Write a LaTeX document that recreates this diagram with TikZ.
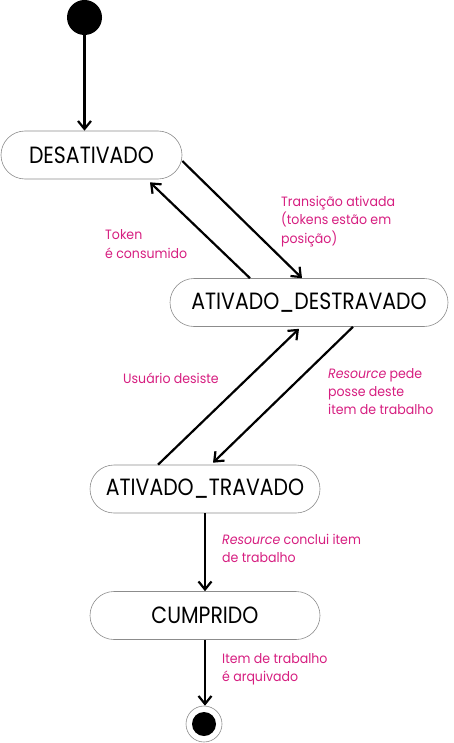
\documentclass[tikz,border=0pt]{standalone}
\usepackage{fontspec}
\setmainfont{Poppins}
\newfontfamily\statefont{Poppins}[FakeStretch=0.87]
\newfontfamily\lblfont{Poppins}[FakeStretch=0.93]
\usetikzlibrary{arrows.meta}
\definecolor{lblc}{RGB}{214,30,128}
\definecolor{bordc}{RGB}{140,140,140}
\begin{document}
\begin{tikzpicture}[x=1pt,y=1pt,
  state/.style={draw=bordc,line width=0.6pt,rounded corners=24pt,minimum height=48pt,inner sep=0pt,font=\statefont\fontsize{23.5}{26}\selectfont},
  conn/.style={line width=2.2pt,-{Straight Barb[length=8pt,width=13pt,line width=2.2pt]}},
  lbl/.style={text=lblc,align=left,inner sep=0pt,font=\lblfont\fontsize{13.5}{18}\selectfont}]
\useasboundingbox (0,0) rectangle (454,-743);
\node[circle,fill=black,minimum size=35pt,inner sep=0pt] (init) at (84.5,-17.5) {};
\node[state,minimum width=181pt] (des) at (91.5,-155) {DESATIVADO};
\node[state,minimum width=278pt] (ad) at (309,-302.5) {ATIVADO\_DESTRAVADO};
\node[state,minimum width=230pt] (at) at (205,-489) {ATIVADO\_TRAVADO};
\node[state,minimum width=230pt] (cum) at (205,-615.5) {CUMPRIDO};
\node[circle,draw=bordc,line width=0.6pt,minimum size=36pt,inner sep=0pt] (fin) at (204,-724) {};
\node[circle,fill=black,minimum size=24pt,inner sep=0pt] (finin) at (fin.center) {};
\draw[conn] (init.south) -- (des.north -| init.south);
\draw[conn] ([yshift=-6pt]des.east) -- ([xshift=-7pt]ad.north);
\draw[conn] ([xshift=-59pt]ad.north) -- ([xshift=58.5pt,yshift=-3pt]des.south);
\draw[conn] ([xshift=-47pt]at.north) -- ([xshift=-10pt,yshift=-2pt]ad.south);
\draw[conn] ([xshift=44pt]ad.south) -- ([xshift=8pt,yshift=2pt]at.north);
\draw[conn] (at.south) -- (cum.north);
\draw[conn] (cum.south) -- (fin.north -| cum.south);
\node[lbl,anchor=base west] (l1) at (281,-243) {Transição ativada\\(tokens estão em\\posição)};
\node[lbl,anchor=base west] (l2) at (105,-258) {Token\\é consumido};
\node[lbl,anchor=base west] (l3) at (123,-383) {Usuário desiste};
\node[lbl,anchor=base west] (l4) at (328,-414) {\textit{Resource} pede\\posse deste\\item de trabalho};
\node[lbl,anchor=base west] (l5) at (222,-562) {\textit{Resource} conclui item\\de trabalho};
\node[lbl,anchor=base west] (l6) at (222,-681) {Item de trabalho\\é arquivado};
\end{tikzpicture}
\end{document}
